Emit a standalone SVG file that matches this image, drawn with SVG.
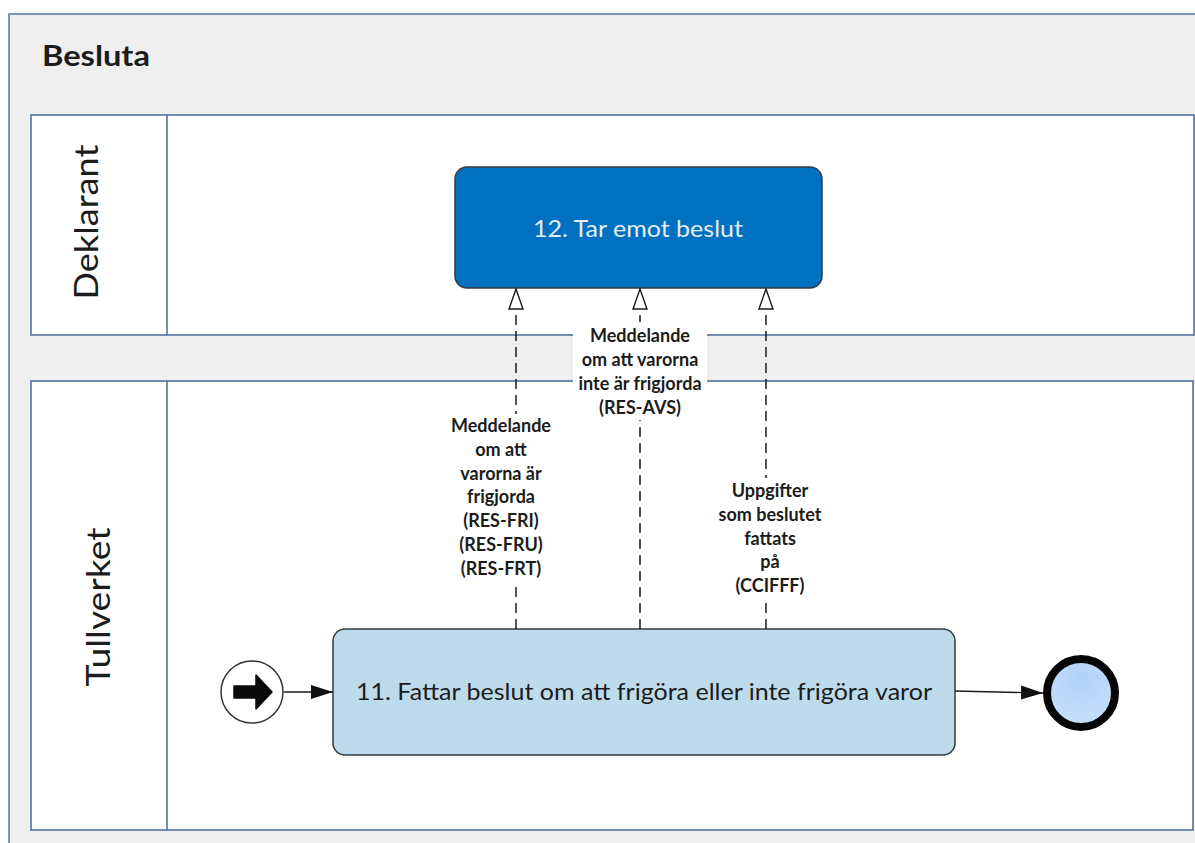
<svg xmlns="http://www.w3.org/2000/svg" width="1195" height="843" viewBox="0 0 1195 843">
<style>
  text { font-family: Lato, "Open Sans", "Liberation Sans", sans-serif; fill: #1c1c1c; }
  .pool { fill: #efefef; stroke: #5576a8; stroke-width: 1.5; }
  .lane { fill: #ffffff; stroke: #4a6a9c; stroke-width: 1.5; }
  .title { font-size: 29px; font-weight: bold; }
  .lanelbl { font-size: 33px; text-anchor: middle; }
  .task { stroke: #3a3a3a; stroke-width: 1.5; }
  .tasktxt { text-anchor: middle; }
  .msg { fill: none; stroke: #1a1a1a; stroke-width: 1.5; stroke-dasharray: 10 6; }
  .flow { fill: none; stroke: #1a1a1a; stroke-width: 1.4; }
  .lbl { font-size: 18px; font-weight: bold; text-anchor: middle; }
</style>
<defs>
  <marker id="open" viewBox="0 0 22 16" refX="21" refY="8" markerWidth="22" markerHeight="16" markerUnits="userSpaceOnUse" orient="auto">
    <path d="M21,8 L1,1 L1,15 Z" fill="#ffffff" stroke="#1a1a1a" stroke-width="1.4" stroke-linejoin="miter"/>
  </marker>
  <marker id="solid" viewBox="0 0 22 16" refX="22" refY="8" markerWidth="22" markerHeight="16" markerUnits="userSpaceOnUse" orient="auto">
    <path d="M0,1 L22,8 L0,15 Z" fill="#111111"/>
  </marker>
  <radialGradient id="endfill" cx="50%" cy="30%" r="70%">
    <stop offset="0" stop-color="#b0d2f8"/>
    <stop offset="1" stop-color="#c6e0fb"/>
  </radialGradient>
</defs>

<g id="pool">
  <rect class="pool" x="9" y="14" width="1200" height="850"/>
  <text class="title" x="42" y="66" textLength="108" lengthAdjust="spacingAndGlyphs">Besluta</text>
</g>

<g id="lane-deklarant">
  <rect class="lane" x="31" y="115" width="1163" height="220"/>
  <line x1="167" y1="115" x2="167" y2="335" stroke="#4a6a9c" stroke-width="1.5"/>
  <text class="lanelbl" transform="translate(98,222) rotate(-90)" textLength="155" lengthAdjust="spacingAndGlyphs">Deklarant</text>
</g>

<g id="lane-tullverket">
  <rect class="lane" x="31" y="381" width="1162" height="449"/>
  <line x1="167" y1="381" x2="167" y2="830" stroke="#4a6a9c" stroke-width="1.5"/>
  <text class="lanelbl" transform="translate(110,607) rotate(-90)" textLength="159" lengthAdjust="spacingAndGlyphs">Tullverket</text>
</g>

<g id="task-12">
  <rect class="task" x="455" y="167" width="367" height="121" rx="12" fill="#0070c0"/>
  <text class="tasktxt" x="638" y="237" font-size="24" style="fill:#e2edf7" textLength="210" lengthAdjust="spacingAndGlyphs">12. Tar emot beslut</text>
</g>

<g id="task-11">
  <rect class="task" x="333" y="629" width="622" height="126" rx="12" fill="#bddbeb"/>
  <text class="tasktxt" x="644" y="700" font-size="23" textLength="576" lengthAdjust="spacingAndGlyphs">11. Fattar beslut om att frigöra eller inte frigöra varor</text>
</g>

<g id="start-event">
  <circle cx="252" cy="692" r="31" fill="#ffffff" stroke="#333333" stroke-width="1.5"/>
  <path d="M234,686 L256,686 L256,675 L272,692 L256,709 L256,698 L234,698 Z" fill="#0a0a0a" stroke="#0a0a0a" stroke-width="1.5" stroke-linejoin="round"/>
</g>

<g id="end-event">
  <circle cx="1081" cy="693" r="34" fill="url(#endfill)" stroke="#050505" stroke-width="8"/>
</g>

<g id="connectors">
  <line class="flow" x1="284" y1="692" x2="333" y2="692" marker-end="url(#solid)"/>
  <line class="flow" x1="955" y1="691" x2="1043" y2="693" marker-end="url(#solid)"/>
  <line class="msg" x1="516" y1="629" x2="516" y2="289" marker-end="url(#open)"/>
  <line class="msg" x1="640" y1="629" x2="640" y2="289" marker-end="url(#open)"/>
  <line class="msg" x1="766" y1="629" x2="766" y2="289" marker-end="url(#open)"/>
</g>

<g id="label-1">
  <rect x="444" y="414" width="114" height="168" fill="#ffffff"/>
  <text class="lbl" x="501" y="432">Meddelande</text>
  <text class="lbl" x="501" y="456">om att</text>
  <text class="lbl" x="501" y="480">varorna är</text>
  <text class="lbl" x="501" y="503">frigjorda</text>
  <text class="lbl" x="501" y="527">(RES-FRI)</text>
  <text class="lbl" x="501" y="551">(RES-FRU)</text>
  <text class="lbl" x="501" y="575">(RES-FRT)</text>
</g>

<g id="label-2">
  <rect x="573" y="322" width="134" height="98" fill="#ffffff"/>
  <text class="lbl" x="640" y="342">Meddelande</text>
  <text class="lbl" x="640" y="366">om att varorna</text>
  <text class="lbl" x="640" y="390">inte är frigjorda</text>
  <text class="lbl" x="640" y="414">(RES-AVS)</text>
</g>

<g id="label-3">
  <rect x="712" y="478" width="116" height="120" fill="#ffffff"/>
  <text class="lbl" x="770" y="497">Uppgifter</text>
  <text class="lbl" x="770" y="521">som beslutet</text>
  <text class="lbl" x="770" y="545">fattats</text>
  <text class="lbl" x="770" y="568">på</text>
  <text class="lbl" x="770" y="592">(CCIFFF)</text>
</g>
</svg>
